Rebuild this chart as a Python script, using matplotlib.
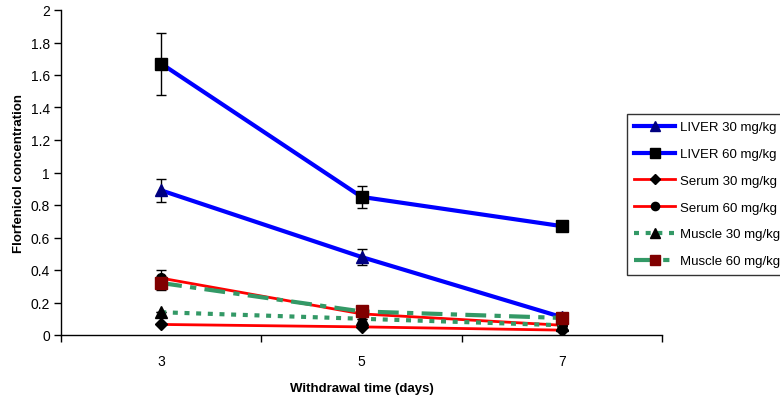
import matplotlib
matplotlib.use("Agg")
import matplotlib.pyplot as plt
import numpy as np

plt.rcParams['font.family'] = ['Liberation Sans', 'DejaVu Sans']

days = ["3", "5", "7"]
liver30 = [0.89, 0.48, 0.11]
liver30_err = [0.07, 0.05, 0.01]
liver60 = [1.67, 0.85, 0.67]
liver60_err = [0.19, 0.07, 0.03]
serum30 = [0.065, 0.05, 0.03]
serum30_err = [0.0, 0.0, 0.0]
serum60 = [0.35, 0.13, 0.06]
serum60_err = [0.05, 0.0, 0.0]
muscle30 = [0.14, 0.10, 0.06]
muscle30_err = [0.0, 0.0, 0.0]
muscle60 = [0.32, 0.145, 0.105]
muscle60_err = [0.04, 0.0, 0.0]

fig = plt.figure(figsize=(7.8, 4.02), dpi=100)
ax = fig.add_axes([61/780, 66/402, 601/780, 325/402])
x = np.arange(len(days))

series = [
    ("LIVER 30 mg/kg", liver30, liver30_err, dict(color="#0000FF", lw=3, ls="-", marker="^", mfc="#000080", mec="#000080", ms=8)),
    ("LIVER 60 mg/kg", liver60, liver60_err, dict(color="#0000FF", lw=3, ls="-", marker="s", mfc="black", mec="black", ms=8)),
    ("Serum 30 mg/kg", serum30, serum30_err, dict(color="#FF0000", lw=2, ls="-", marker="D", mfc="black", mec="black", ms=6)),
    ("Serum 60 mg/kg", serum60, serum60_err, dict(color="#FF0000", lw=2, ls="-", marker="o", mfc="black", mec="black", ms=7)),
    ("Muscle 30 mg/kg", muscle30, muscle30_err, dict(color="#339966", lw=3, ls=(0, (1.2, 1.6)), marker="^", mfc="black", mec="black", ms=8)),
    ("Muscle 60 mg/kg", muscle60, muscle60_err, dict(color="#339966", lw=3, ls=(0, (5, 2, 1.5, 2)), marker="s", mfc="#800000", mec="#800000", ms=8)),
]

handles = []
for label, vals, errs, st in series:
    ax.errorbar(x, vals, yerr=errs, fmt="none", ecolor="black", elinewidth=1, capsize=3.5, capthick=1)
    ln, = ax.plot(x, vals, label=label, **st)
    handles.append(ln)

ax.set_xlim(-0.5, 2.5)
ax.set_ylim(0, 2)
ax.set_yticks(np.arange(0, 2.01, 0.2))
ax.set_yticklabels(["0", "0.2", "0.4", "0.6", "0.8", "1", "1.2", "1.4", "1.6", "1.8", "2"])
ax.set_xticks([-0.5, 0.5, 1.5, 2.5])
ax.set_xticklabels([])
ax.set_xticks(x, minor=True)
ax.set_xticklabels(days, minor=True)
ax.tick_params(axis='x', which='minor', length=0, pad=14, labelsize=10)
ax.tick_params(axis='x', which='major', length=5, direction='out', width=1)
ax.tick_params(axis='y', length=5, direction='out', labelsize=10, pad=3, width=1)
for s in ["top", "right"]:
    ax.spines[s].set_visible(False)
for s in ["left", "bottom"]:
    ax.spines[s].set_linewidth(1)
ax.set_xlabel("Withdrawal time (days)", fontsize=9.5, fontweight="bold", labelpad=10)
ax.set_ylabel("Florfenicol concentration", fontsize=9.5, fontweight="bold", labelpad=4)

leg = fig.legend(handles=handles, loc="upper left", bbox_to_anchor=(627/780, 1 - 115/402), fontsize=9.5,
                 frameon=True, fancybox=False, edgecolor="black", handlelength=3.1,
                 labelspacing=1.1, borderpad=0.55, handletextpad=0.4, borderaxespad=0, markerscale=0.85)
leg.get_frame().set_linewidth(1)

fig.savefig("out.png", dpi=100)
